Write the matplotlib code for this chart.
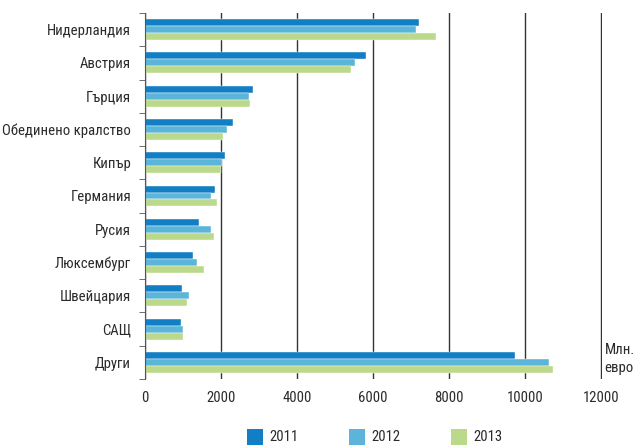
# horizontal grouped bars: investments by country, 2011-2013 -> out.png
import matplotlib.pyplot as plt
from matplotlib.patches import Rectangle
import numpy as np

countries = ["Нидерландия", "Австрия", "Гърция", "Обединено кралство", "Кипър",
             "Германия", "Русия", "Люксембург", "Швейцария", "САЩ", "Други"]
years = ["2011", "2012", "2013"]
v2011 = [7220, 5820, 2850, 2320, 2110, 1830, 1420, 1270, 970, 940, 9750]
v2012 = [7130, 5520, 2750, 2170, 2030, 1750, 1730, 1360, 1170, 990, 10620]
v2013 = [7670, 5430, 2770, 2040, 2010, 1890, 1810, 1560, 1110, 1010, 10740]
colors = ["#127ec3", "#5bb5d8", "#bbd98a"]

plt.rcParams["font.family"] = ["Roboto Condensed", "Liberation Sans Narrow",
                               "Liberation Sans", "DejaVu Sans"]
plt.rcParams["text.color"] = "#2b2b2b"
fs = 10.6

W, H = 638, 445
fig = plt.figure(figsize=(W / 100, H / 100), dpi=100)
ax = fig.add_axes([145 / W, 66 / H, 457.1 / W, 366 / H])

y = np.arange(len(countries))
h = 0.21
for i, (vals, c) in enumerate(zip([v2011, v2012, v2013], colors)):
    ax.barh(y + (i - 1) * h, vals, height=h, color=c, zorder=3,
            edgecolor="white", linewidth=0.3)

ax.set_ylim(len(countries) - 0.5, -0.5)
ax.set_xlim(0, 12030)
ax.set_xticks(range(0, 12001, 2000))
ax.set_yticks(y)
ax.set_yticklabels(countries, fontsize=fs)
ax.tick_params(axis="y", length=0, pad=10, labelcolor="#2b2b2b")
ax.set_yticks(np.arange(-0.5, len(countries)), minor=True)
ax.tick_params(axis="y", which="minor", length=4, color="#555555", direction="out")
ax.tick_params(axis="x", length=0, labelsize=fs, pad=9, labelcolor="#2b2b2b")
ax.grid(axis="x", color="#333333", lw=1.0, zorder=0)
for s in ["top", "right", "bottom"]:
    ax.spines[s].set_visible(False)
ax.spines["left"].set_color("#555555")
ax.spines["left"].set_zorder(4)

ax.text(12090, 9.9, "Млн.\nевро", fontsize=fs, va="center", ha="left",
        linespacing=1.35)

# legend along the bottom
for i, (c, lab) in enumerate(zip(colors, years)):
    x0 = 247 + i * 102
    fig.patches.append(Rectangle((x0 / W, 1 - 445 / H), 16 / W, 16 / H,
                                 transform=fig.transFigure, fc=c, ec="none"))
    fig.text((x0 + 22) / W, 1 - 437 / H, lab, fontsize=fs, va="center", ha="left")

fig.savefig("out.png", dpi=100)
